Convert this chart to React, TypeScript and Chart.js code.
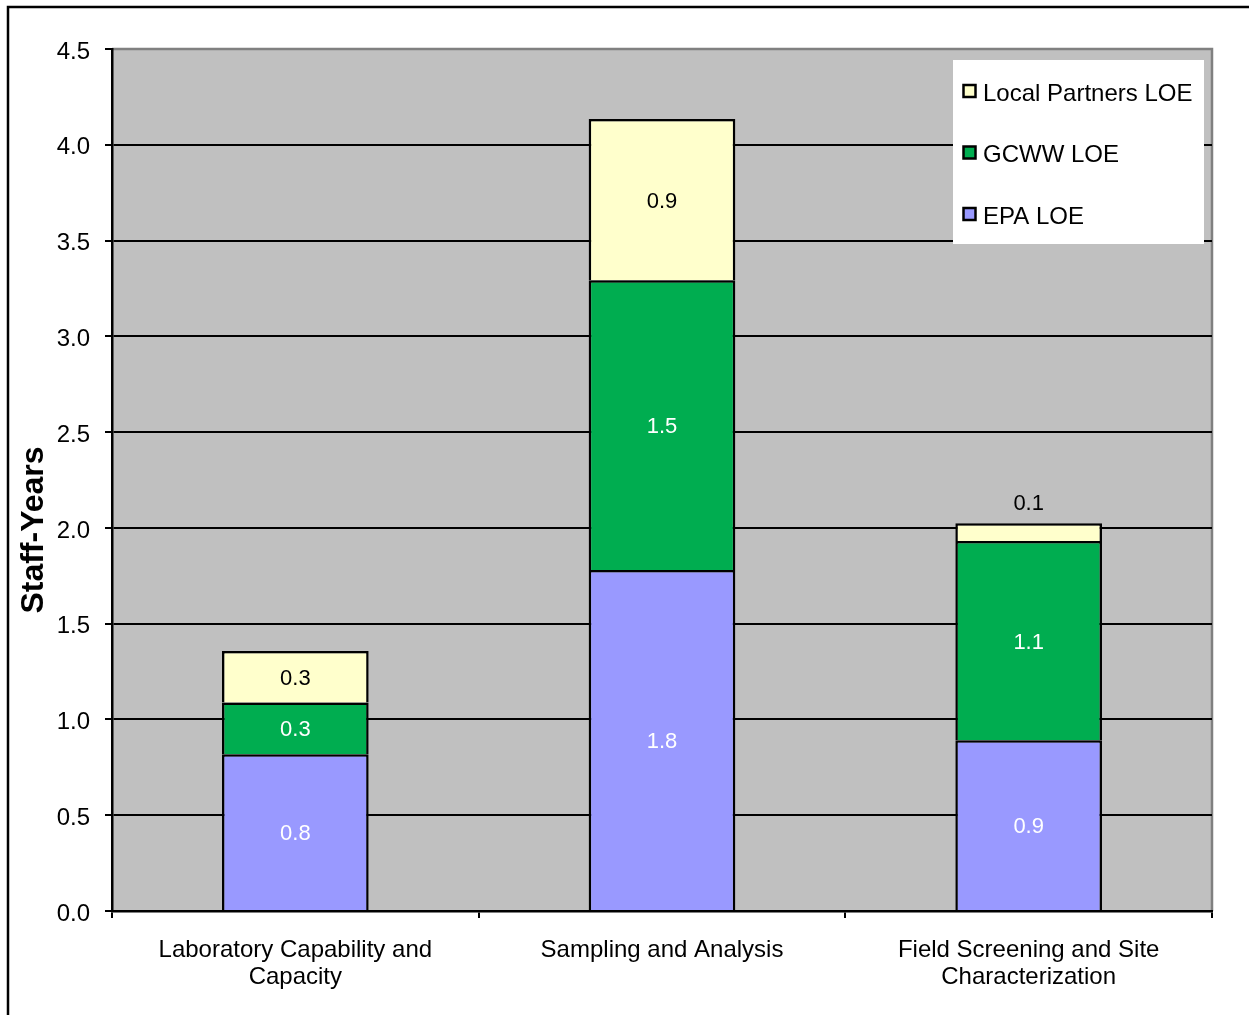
import React, { useEffect, useRef } from "react";
import { Chart, registerables } from "chart.js";

Chart.register(...registerables);

// ---- data ----
const categories: string[][] = [
  ["Laboratory Capability and", "Capacity"],
  ["Sampling and Analysis"],
  ["Field Screening and Site", "Characterization"],
];
const epaValues = [0.818, 1.78, 0.892];
const gcwwValues = [0.271, 1.513, 1.039];
const localValues = [0.268, 0.841, 0.093];
const epaLabels = ["0.8", "1.8", "0.9"];
const gcwwLabels = ["0.3", "1.5", "1.1"];
const localLabels = ["0.3", "0.9", "0.1"];
const seriesNames = ["EPA LOE", "GCWW LOE", "Local Partners LOE"];
const yAxisTitle = "Staff-Years";
const yMin = 0;
const yMax = 4.5;
const yStep = 0.5;

// ---- styles ----
const FONT = "'Liberation Sans', Arial, sans-serif";
const seriesColors = ["#9999FF", "#00AD50", "#FFFFCC"];
const labelColors = ["#FFFFFF", "#FFFFFF", "#000000"];
const seriesLabels = [epaLabels, gcwwLabels, localLabels];

const backgroundPlugin = {
  id: "plotBackground",
  beforeDraw(chart: any) {
    const { ctx, chartArea } = chart;
    ctx.save();
    ctx.fillStyle = "#FFFFFF";
    ctx.fillRect(0, 0, chart.width, chart.height);
    ctx.fillStyle = "#C0C0C0";
    ctx.fillRect(chartArea.left, chartArea.top, chartArea.right - chartArea.left, chartArea.bottom - chartArea.top);
    ctx.strokeStyle = "#808080";
    ctx.lineWidth = 2.5;
    ctx.beginPath();
    ctx.moveTo(chartArea.left, chartArea.top);
    ctx.lineTo(chartArea.right, chartArea.top);
    ctx.lineTo(chartArea.right, chartArea.bottom);
    ctx.stroke();
    ctx.restore();
  },
};

const dataLabelPlugin = {
  id: "segLabels",
  afterDatasetsDraw(chart: any) {
    const { ctx } = chart;
    ctx.save();
    ctx.font = `22px ${FONT}`;
    ctx.textAlign = "center";
    ctx.textBaseline = "middle";
    chart.data.datasets.forEach((ds: any, di: number) => {
      const meta = chart.getDatasetMeta(di);
      meta.data.forEach((el: any, i: number) => {
        const p = el.getProps(["x", "y", "base"], true);
        const h = Math.abs(p.base - p.y);
        let cy = (p.y + p.base) / 2 + 2;
        let color = labelColors[di];
        if (h < 28) {
          cy = Math.min(p.y, p.base) - 19;
          color = "#000000";
        }
        ctx.fillStyle = color;
        ctx.fillText(seriesLabels[di][i], p.x, cy);
      });
    });
    ctx.restore();
  },
};

const decorPlugin = {
  id: "decor",
  afterDraw(chart: any) {
    const { ctx } = chart;
    ctx.save();
    // outer frame
    ctx.strokeStyle = "#000000";
    ctx.lineWidth = 2.5;
    ctx.beginPath();
    ctx.moveTo(8, chart.height + 5);
    ctx.lineTo(8, 7);
    ctx.lineTo(chart.width + 5, 7);
    ctx.stroke();

    // y axis title
    ctx.save();
    ctx.translate(34, 530);
    ctx.rotate(-Math.PI / 2);
    ctx.font = `bold 32px ${FONT}`;
    ctx.fillStyle = "#000000";
    ctx.textAlign = "center";
    ctx.textBaseline = "middle";
    ctx.fillText(yAxisTitle, 0, 0);
    ctx.restore();

    // legend
    const lx = 953, ly = 60, lw = 251, lh = 184;
    ctx.fillStyle = "#FFFFFF";
    ctx.fillRect(lx, ly, lw, lh);
    const order = [2, 1, 0];
    ctx.font = `24px ${FONT}`;
    ctx.textAlign = "left";
    ctx.textBaseline = "middle";
    order.forEach((si, k) => {
      const cy = 91 + k * 61.5;
      ctx.fillStyle = seriesColors[si];
      ctx.fillRect(963, cy - 6.5, 13, 13);
      ctx.strokeStyle = "#000000";
      ctx.lineWidth = 2.5;
      ctx.strokeRect(963.5, cy - 6, 12, 12);
      ctx.fillStyle = "#000000";
      ctx.fillText(seriesNames[si], 983, cy + 3);
    });
    ctx.restore();
  },
};

export default function App() {
  const canvasRef = useRef<HTMLCanvasElement | null>(null);

  useEffect(() => {
    if (!canvasRef.current) return;
    const chart = new Chart(canvasRef.current, {
      type: "bar",
      data: {
        labels: categories as any,
        datasets: seriesNames.map((name, i) => ({
          label: name,
          data: [epaValues, gcwwValues, localValues][i],
          backgroundColor: seriesColors[i],
          borderColor: "#000000",
          borderWidth: 2.5,
          barPercentage: 0.4,
          categoryPercentage: 1,
        })),
      },
      options: {
        animation: false,
        responsive: true,
        maintainAspectRatio: false,
        layout: { padding: { left: 0, top: 49, right: 37, bottom: 0 } },
        plugins: {
          legend: { display: false },
          tooltip: { enabled: false },
          title: { display: false },
        },
        scales: {
          x: {
            stacked: true,
            afterFit(scale: any) {
              scale.height = 104;
            },
            grid: {
              offset: true,
              drawOnChartArea: false,
              drawTicks: true,
              tickLength: 7,
              color: "#000000",
              tickColor: "#000000",
              lineWidth: 2,
            },
            border: { display: true, color: "#000000", width: 2.5 },
            ticks: {
              color: "#000000",
              padding: 19,
              maxRotation: 0,
              autoSkip: false,
              font: { family: FONT, size: 24, lineHeight: 1.12 },
            },
          },
          y: {
            stacked: true,
            min: yMin,
            max: yMax,
            afterFit(scale: any) {
              scale.width = 112;
            },
            grid: {
              drawTicks: true,
              tickLength: 7,
              color: (c: any) => (c.tick && c.tick.value === yMax ? "#808080" : "#000000"),
              tickColor: "#000000",
              lineWidth: 2,
            },
            border: { display: true, color: "#000000", width: 2.5 },
            ticks: {
              stepSize: yStep,
              color: "#000000",
              padding: 15,
              labelOffset: 3,
              font: { family: FONT, size: 24 },
              callback: (v: any) => Number(v).toFixed(1),
            },
          },
        },
      },
      plugins: [backgroundPlugin, dataLabelPlugin, decorPlugin],
    });
    return () => chart.destroy();
  }, []);

  return (
    <div style={{ position: "fixed", left: 0, top: 0, width: 1249, height: 1015, background: "#fff" }}>
      <canvas ref={canvasRef} />
    </div>
  );
}
